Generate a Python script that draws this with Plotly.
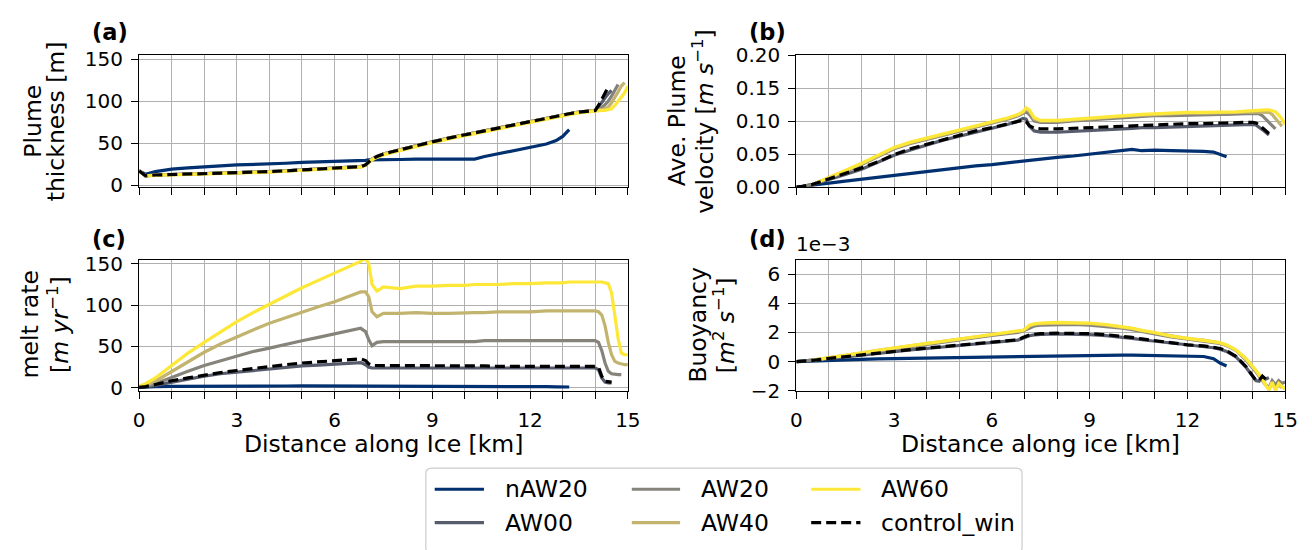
import plotly.graph_objects as go

N = None

# Distance along the ice face [km]; shared sampling for every series
KM = [0, 0.2, 0.5, 1, 1.5, 2, 2.5, 3, 3.5, 4, 4.5, 5, 5.5, 6, 6.5,
      6.8, 6.95, 7.05, 7.15, 7.3, 7.5,
      8, 8.5, 9, 9.5, 10, 10.3, 10.6, 11, 11.5, 12, 12.5,
      12.8, 13.0, 13.2, 13.5, 13.8,
      14.0, 14.1, 14.2, 14.3, 14.4, 14.5, 14.6, 14.7, 14.8, 14.9, 15.0]

SERIES = ["nAW20", "AW00", "AW20", "AW40", "AW60", "control_win"]
COLORS = ["#00306f", "#575c6d", "#86847a", "#c2b46e", "#fde737", "#000000"]

# (a) plume thickness [m]
THICK_NAW20 = [17, 13, 16, 19, 20.5, 22, 23, 24, 24.5, 25.5, 26, 27, 27.5, 28, 28.5,
               29, 29.5, 30, 30, 30, 30.5,
               30.5, 31, 31, 31, 31, 31, 34, 37, 41, 45, 49,
               53, 58, 66, N, N,
               N, N, N, N, N, N, N, N, N, N, N]
THICK_AW00 = [17, 11, 12, 12.5, 13, 13.5, 14, 14.5, 15, 16, 17, 18, 19, 20, 21,
              22, 24, 28, 31, 34, 37,
              42, 47, 51.5, 56, 60, 62.5, 65, 68, 72, 76, 80,
              82.5, 84, 85, 87, 88,
              89, 93, 99, 104, 109, 113, N, N, N, N, N]
THICK_AW20 = [17, 11, 12, 12.5, 13, 13.5, 14, 14.5, 15, 16, 17, 18, 19, 20, 21,
              22, 24, 28, 31, 34, 37,
              42, 47, 51.5, 56, 60, 62.5, 65, 68, 72, 76, 80,
              82.5, 84, 85, 87, 88,
              89, 90, 92, 96, 100, 106, 113, 120, N, N, N]
THICK_AW40 = [17, 11, 12, 12.5, 13, 13.5, 14, 14.5, 15, 16, 17, 18, 19, 20, 21,
              22, 24, 28, 31, 34, 37,
              42, 47, 51.5, 56, 60, 62.5, 65, 68, 72, 76, 80,
              82.5, 84, 85, 87, 88,
              89, 89.5, 90, 91, 93, 98, 104, 111, 118, 122, N]
THICK_AW60 = [17, 11, 11.5, 12, 12.5, 13, 13.5, 14, 14.5, 15.5, 16.5, 17.5, 18.5, 19.5, 20.5,
              21.5, 23.5, 27, 30, 33, 36,
              41, 46, 50.5, 55, 59, 61.5, 64, 67, 71, 75, 79,
              81.5, 83, 84, 86, 87.5,
              88.5, 88.5, 89, 89, 90, 91, 95, 100, 104, 110, 118]
THICK_CTRL = [17, 11, 12, 12.5, 13, 13.5, 14, 14.5, 15, 16, 17, 18, 19, 20, 21,
              22, 24, 28, 31, 34, 37,
              42, 47, 51.5, 56, 60, 62.5, 65, 68, 72, 76, 80,
              82.5, 84, 85, 87, 88,
              89, 95, 102, 109, 117, N, N, N, N, N, N]

# (b) depth-averaged plume velocity [m s-1]
VEL_NAW20 = [0, 0.001, 0.003, 0.006, 0.009, 0.012, 0.015, 0.018, 0.021, 0.024, 0.026, 0.029, 0.032, 0.034, 0.037,
             0.038, 0.039, 0.040, 0.040, 0.041, 0.042,
             0.045, 0.047, 0.050, 0.052, 0.055, 0.057, 0.055, 0.056, 0.055, 0.055, 0.054,
             0.053, 0.049, 0.046, N, N,
             N, N, N, N, N, N, N, N, N, N, N]
VEL_AW00 = [0, 0.001, 0.004, 0.011, 0.019, 0.027, 0.037, 0.048, 0.056, 0.064, 0.071, 0.077, 0.083, 0.089, 0.095,
            0.100, 0.104, 0.103, 0.092, 0.085, 0.083,
            0.083, 0.084, 0.086, 0.087, 0.088, 0.089, 0.090, 0.090, 0.091, 0.092, 0.093,
            0.093, 0.094, 0.094, 0.094, 0.095,
            0.095, 0.094, 0.091, 0.087, 0.083, 0.079, N, N, N, N, N]
VEL_AW20 = [N, 0.001, 0.004, 0.013, 0.023, 0.034, 0.046, 0.058, 0.066, 0.072, 0.078, 0.085, 0.090, 0.097, 0.103,
            0.108, 0.112, 0.114, 0.110, 0.100, 0.098,
            0.098, 0.100, 0.102, 0.103, 0.105, 0.106, 0.107, 0.108, 0.108, 0.109, 0.110,
            0.110, 0.110, 0.110, 0.111, 0.111,
            0.111, 0.111, 0.111, 0.108, 0.103, 0.097, 0.092, 0.088, N, N, N]
VEL_AW40 = [N, N, 0.004, 0.014, 0.024, 0.035, 0.047, 0.059, 0.067, 0.073, 0.079, 0.086, 0.091, 0.098, 0.104,
            0.109, 0.113, 0.118, 0.115, 0.103, 0.100,
            0.100, 0.102, 0.104, 0.106, 0.107, 0.108, 0.109, 0.110, 0.111, 0.112, 0.112,
            0.112, 0.112, 0.113, 0.113, 0.114,
            0.114, 0.114, 0.114, 0.114, 0.114, 0.113, 0.110, 0.104, 0.098, 0.092, N]
VEL_AW60 = [N, N, 0.004, 0.014, 0.025, 0.036, 0.048, 0.060, 0.068, 0.074, 0.080, 0.087, 0.092, 0.099, 0.105,
            0.110, 0.114, 0.120, 0.117, 0.105, 0.101,
            0.101, 0.103, 0.105, 0.107, 0.108, 0.109, 0.110, 0.111, 0.112, 0.113, 0.113,
            0.113, 0.113, 0.114, 0.114, 0.115,
            0.116, 0.116, 0.116, 0.117, 0.117, 0.117, 0.116, 0.114, 0.109, 0.103, 0.095]
VEL_CTRL = [0, 0.001, 0.004, 0.012, 0.020, 0.029, 0.038, 0.049, 0.058, 0.065, 0.072, 0.079, 0.085, 0.090, 0.096,
            0.100, 0.101, 0.099, 0.093, 0.089, 0.088,
            0.088, 0.089, 0.090, 0.091, 0.092, 0.093, 0.094, 0.095, 0.095, 0.096, 0.096,
            0.097, 0.097, 0.097, 0.098, 0.098,
            0.098, 0.097, 0.094, 0.090, 0.085, 0.081, N, N, N, N, N]

# (c) melt rate [m yr-1]
MELT_NAW20 = [0.5, 1, 1.5, 1.8, 2, 2, 2.1, 2.1, 2.2, 2.2, 2.2, 2.3, 2.3, 2.3, 2.3,
              2.3, 2.3, 2.3, 2.3, 2.3, 2.3,
              2.2, 2.2, 2.2, 2.1, 2.1, 2, 2, 1.9, 1.8, 1.6, 1.4,
              1.2, 1.1, 1.0, N, N,
              N, N, N, N, N, N, N, N, N, N, N]
MELT_AW00 = [0.5, 1, 3, 7, 10.5, 14, 17, 19, 21, 23, 25, 26.5, 27.5, 29, 30,
             30.5, 28, 25, 24, 24, 24,
             24, 24, 24, 24, 24, 24, 24, 24, 24, 24, 24,
             24, 24, 24, 24, 24,
             24, 22, 12, 7, 6, 6, N, N, N, N, N]
MELT_AW20 = [1, 2, 5, 13, 20, 27, 33, 38, 44, 48, 53, 57, 61, 65, 69,
             72, 68, 58, 51, 55, 56,
             56, 56, 56, 56, 56, 56, 57, 57, 57, 57, 57,
             57, 57, 57, 57, 57,
             57, 55, 45, 30, 20, 17, 16, 16, 16, N, N]
MELT_AW40 = [1.5, 3, 8, 20, 32, 43, 53, 62, 70, 78, 85, 92, 98, 104, 111,
             116, 116, 110, 92, 86, 90,
             90, 91, 90, 90, 91, 91, 91, 92, 92, 92, 93,
             93, 93, 93, 93, 93,
             93, 92, 88, 75, 55, 40, 32, 30, 29, 28, 28]
MELT_AW60 = [2, 5, 12, 27, 42, 55, 68, 80, 91, 101, 112, 121, 130, 139, 148,
             153, 157, 150, 125, 117, 122,
             120, 123, 123, 124, 124, 125, 125, 125, 126, 126, 127,
             127, 127, 128, 128, 128,
             128, 128, 128, 127, 126, 115, 90, 60, 42, 40, 40]
MELT_CTRL = [0.5, 1.5, 4, 8.5, 12, 15.5, 18.5, 21, 23.5, 26, 28, 30, 31.5, 33, 34,
             35, 33, 29, 27, 27, 27,
             27, 27, 27, 26.5, 26.5, 26.5, 26.5, 26, 26, 26, 26,
             26, 26, 26, 26, 26,
             26, 25, 14, 8, 7, 7, N, N, N, N, N]

# (d) buoyancy [1e-3 m2 s-1]
BUOY_NAW20 = [0, 0.02, 0.05, 0.1, 0.13, 0.16, 0.19, 0.21, 0.24, 0.26, 0.28, 0.3, 0.32, 0.34, 0.36,
              0.37, 0.38, 0.38, 0.39, 0.39, 0.4,
              0.41, 0.42, 0.43, 0.44, 0.45, 0.45, 0.44, 0.42, 0.4, 0.38, 0.35,
              0.2, -0.1, -0.3, N, N,
              N, N, N, N, N, N, N, N, N, N, N]
BUOY_AW00 = [0, 0.03, 0.08, 0.2, 0.33, 0.46, 0.58, 0.7, 0.8, 0.9, 1.0, 1.1, 1.2, 1.3, 1.4,
             1.48, 1.6, 1.7, 1.78, 1.83, 1.87,
             1.9, 1.9, 1.85, 1.78, 1.68, 1.6, 1.5, 1.4, 1.25, 1.12, 1.05,
             0.95, 0.85, 0.7, 0.3, -0.4,
             -1.0, -1.3, -1.35, -1.05, -1.2, -1.1, N, N, N, N, N]
BUOY_AW20 = [0, 0.03, 0.1, 0.24, 0.4, 0.57, 0.74, 0.9, 1.05, 1.2, 1.35, 1.5, 1.65, 1.8, 1.92,
             2.0, 2.1, 2.2, 2.35, 2.45, 2.5,
             2.55, 2.55, 2.5, 2.42, 2.3, 2.2, 2.05, 1.9, 1.7, 1.55, 1.45,
             1.35, 1.25, 1.1, 0.75, 0.1,
             -0.4, -0.7, -1.0, -1.3, -1.6, -1.8, -1.3, -1.6, -1.3, -1.5, -1.4]
BUOY_AW40 = [N, N, 0.1, 0.25, 0.41, 0.59, 0.77, 0.94, 1.09, 1.24, 1.39, 1.54, 1.69, 1.84, 1.96,
             2.04, 2.13, 2.27, 2.45, 2.55, 2.6,
             2.65, 2.65, 2.6, 2.5, 2.38, 2.27, 2.12, 1.97, 1.73, 1.58, 1.48,
             1.38, 1.28, 1.13, 0.78, 0.15,
             -0.35, -0.65, -0.95, -1.25, -1.6, -1.9, -1.5, -1.9, -1.6, -1.8, N]
BUOY_AW60 = [N, N, 0.1, 0.25, 0.42, 0.6, 0.78, 0.95, 1.1, 1.25, 1.4, 1.55, 1.7, 1.85, 1.97,
             2.05, 2.15, 2.3, 2.5, 2.6, 2.65,
             2.7, 2.7, 2.65, 2.55, 2.4, 2.3, 2.15, 2.0, 1.75, 1.6, 1.5,
             1.4, 1.3, 1.15, 0.8, 0.2,
             -0.3, -0.6, -0.9, -1.2, -1.6, -1.95, -1.4, -2.0, -1.5, -1.7, -1.9]
BUOY_CTRL = [0, 0.03, 0.09, 0.22, 0.35, 0.48, 0.6, 0.72, 0.82, 0.93, 1.03, 1.13, 1.23, 1.33, 1.43,
             1.5, 1.65, 1.75, 1.83, 1.88, 1.92,
             1.95, 1.95, 1.92, 1.85, 1.75, 1.66, 1.56, 1.45, 1.3, 1.15, 1.08,
             1.0, 0.9, 0.75, 0.35, -0.35,
             -1.0, -1.3, -1.3, -1.0, -1.2, N, N, N, N, N, N]

X_MAJOR = [0, 3, 6, 9, 12, 15]

FONT = "DejaVu Sans"
W, H = 1312, 550
LW = 3.2
DASH = "10px,5px"


def px(x):
    return x / W


def py(y):
    return 1 - y / H


panels = [
    ("x", "y", [THICK_NAW20, THICK_AW00, THICK_AW20, THICK_AW40, THICK_AW60, THICK_CTRL]),
    ("x2", "y2", [VEL_NAW20, VEL_AW00, VEL_AW20, VEL_AW40, VEL_AW60, VEL_CTRL]),
    ("x3", "y3", [MELT_NAW20, MELT_AW00, MELT_AW20, MELT_AW40, MELT_AW60, MELT_CTRL]),
    ("x4", "y4", [BUOY_NAW20, BUOY_AW00, BUOY_AW20, BUOY_AW40, BUOY_AW60, BUOY_CTRL]),
]

fig = go.Figure()
for xa, ya, sets in panels:
    for name, color, vals in zip(SERIES, COLORS, sets):
        assert len(vals) == len(KM), name
        fig.add_trace(go.Scatter(
            x=KM, y=vals, mode="lines", name=name, xaxis=xa, yaxis=ya,
            showlegend=False, connectgaps=False,
            line=dict(color=color, width=LW,
                      dash=DASH if name == "control_win" else "solid"),
        ))

GRID = "#b0b0b0"
axis_common = dict(
    showline=True, mirror=True, linecolor="black", linewidth=1.3,
    ticks="outside", ticklen=7, tickwidth=1.3, tickcolor="black",
    showgrid=True, gridcolor=GRID, gridwidth=1.3, zeroline=False,
    ticklabelstandoff=4,
    tickfont=dict(family=FONT, size=20, color="black"),
)

LEFT = [px(135), px(631)]
RIGHT = [px(802), px(1298)]
TOP = [py(183), py(45)]
BOTTOM = [py(396), py(259)]


def xaxis(domain, anchor, labeled):
    return dict(axis_common, domain=domain, anchor=anchor, range=[0, 15],
                tickmode="array", tickvals=X_MAJOR,
                ticktext=[str(v) for v in X_MAJOR], showticklabels=labeled,
                minor=dict(tick0=0, dtick=1, ticks="outside", ticklen=7,
                           tickwidth=1.3, tickcolor="black",
                           showgrid=True, gridcolor=GRID, gridwidth=1.3))


def yaxis(domain, anchor, rng, vals, text):
    return dict(axis_common, domain=domain, anchor=anchor, range=rng,
                tickmode="array", tickvals=vals, ticktext=text)


fig.update_layout(
    width=W, height=H,
    margin=dict(l=0, r=0, t=0, b=0),
    paper_bgcolor="white", plot_bgcolor="white",
    font=dict(family=FONT, color="black"),
    xaxis=xaxis(LEFT, "y", False),
    xaxis2=xaxis(RIGHT, "y2", False),
    xaxis3=xaxis(LEFT, "y3", True),
    xaxis4=xaxis(RIGHT, "y4", True),
    yaxis=yaxis(TOP, "x", [-2.3, 155], [0, 50, 100, 150], ["0", "50", "100", "150"]),
    yaxis2=yaxis(TOP, "x2", [0, 0.2], [0, 0.05, 0.1, 0.15, 0.2],
                 ["0.00", "0.05", "0.10", "0.15", "0.20"]),
    yaxis3=yaxis(BOTTOM, "x3", [-3.5, 155], [0, 50, 100, 150], ["0", "50", "100", "150"]),
    yaxis4=yaxis(BOTTOM, "x4", [-2, 7], [-2, 0, 2, 4, 6], ["\u22122", "0", "2", "4", "6"]),
)

ann = []


def text(x, y, s, size=23.5, xanchor="center", angle=0, bold=False):
    ann.append(dict(
        x=px(x), y=py(y), xref="paper", yref="paper", text=f"<b>{s}</b>" if bold else s,
        showarrow=False, xanchor=xanchor, yanchor="middle", textangle=angle,
        font=dict(family=FONT, size=size, color="black"),
    ))


# panel letters and offset text
text(85, 21, "(a)", 22.5, "left", bold=True)
text(752, 21, "(b)", 22.5, "left", bold=True)
text(85, 237, "(c)", 22.5, "left", bold=True)
text(752, 237, "(d)", 22.5, "left", bold=True)
text(800, 243, "1e\u22123", 20, "left")

# y-axis titles (two lines each)
text(27, 114, "Plume", angle=-90)
text(51, 114, "thickness [m]", angle=-90)
text(681, 114, "Ave. Plume", angle=-90)
text(707, 114, "velocity [<i>m s</i><sup>\u22121</sup>]", angle=-90)
text(24, 327, "melt rate", angle=-90)
text(54, 327, "[<i>m yr</i><sup>\u22121</sup>]", angle=-90)
text(702, 327, "Buoyancy", angle=-90)
text(729, 327, "[<i>m</i><sup>2</sup> <i>s</i><sup>\u22121</sup>]", angle=-90)

# x-axis titles
text(383, 452, "Distance along Ice [km]")
text(1050, 452, "Distance along ice [km]")

# legend: frame, sample lines and labels in three columns
shapes = []
x0, x1, y0, y1, r = px(426), px(1031), py(566), py(477), 6
rx, ry = r / W, r / H
shapes.append(dict(
    type="path", xref="paper", yref="paper",
    path=(f"M {x0 + rx},{y1} L {x1 - rx},{y1} Q {x1},{y1} {x1},{y1 - ry} "
          f"L {x1},{y0 + ry} Q {x1},{y0} {x1 - rx},{y0} L {x0 + rx},{y0} "
          f"Q {x0},{y0} {x0},{y0 + ry} L {x0},{y1 - ry} Q {x0},{y1} {x0 + rx},{y1} Z"),
    line=dict(color="#cccccc", width=1.2), fillcolor="rgba(255,255,255,0.8)",
))
cols = [(435, 485, 504), (635, 684, 703), (817, 867, 886)]
rows = [499, 534]
for i, (name, color) in enumerate(zip(SERIES, COLORS)):
    lx0, lx1, tx = cols[i // 2]
    ly = rows[i % 2]
    shapes.append(dict(
        type="line", xref="paper", yref="paper",
        x0=px(lx0), x1=px(lx1), y0=py(ly), y1=py(ly),
        line=dict(color=color, width=LW,
                  dash=DASH if name == "control_win" else "solid"),
    ))
    text(tx, ly, name, xanchor="left")

fig.update_layout(annotations=ann, shapes=shapes)

fig.write_html("out.html")
